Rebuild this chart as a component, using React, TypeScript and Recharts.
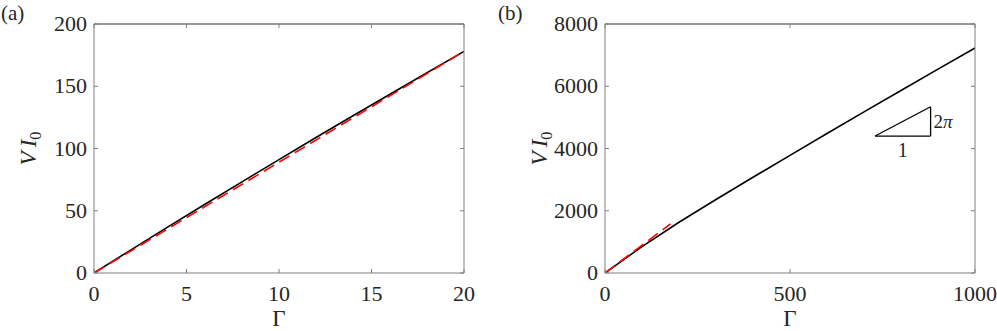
import React from "react";
import { LineChart, Line, XAxis, YAxis, ReferenceLine, ReferenceDot } from "recharts";

// panel (a): small Gamma range
const gammaA = [0, 2, 4, 6, 8, 10, 12, 14, 16, 18, 20];
const blackA = [0, 18.6, 37, 55.2, 73.2, 91.1, 108.8, 126.3, 143.6, 160.8, 178];
const redGammaA = [0, 10, 20];
const redA = [0, 89, 178];
const xTicksA = [0, 5, 10, 15, 20];
const yTicksA = [0, 50, 100, 150, 200];

// panel (b): large Gamma range
const gammaB = [0, 100, 200, 300, 400, 500, 600, 700, 800, 900, 1000];
const blackB = [0, 850, 1630, 2360, 3075, 3780, 4480, 5175, 5865, 6550, 7230];
const redGammaB = [0, 88, 177];
const redB = [0, 785, 1575];
const xTicksB = [0, 500, 1000];
const yTicksB = [0, 2000, 4000, 6000, 8000];

// slope triangle (data units of panel b)
const triX = [730, 880];
const triY = [4400, 5342];

const FONT = "'Liberation Serif', 'Times New Roman', serif";
const AXIS = "#808080";
const TOP = "#303030";
const TXT = "#262626";

const toRows = (xs: number[], ys: number[]) => xs.map((g, i) => ({ g, v: ys[i] }));

function BottomTick({ x, y, payload }: any) {
  return (
    <g>
      <line x1={x} x2={x} y1={y} y2={y - 4} stroke={AXIS} />
      <text x={x} y={y + 28} textAnchor="middle" fontSize={22} fontFamily={FONT} fill={TXT}>
        {payload.value}
      </text>
    </g>
  );
}

function LeftTick({ x, y, payload }: any) {
  return (
    <g>
      <line x1={x} x2={x + 4} y1={y} y2={y} stroke={AXIS} />
      <text x={x - 7} y={y + 7} textAnchor="end" fontSize={22} fontFamily={FONT} fill={TXT}>
        {payload.value}
      </text>
    </g>
  );
}

function TopTick({ x, y }: any) {
  return <line x1={x} x2={x} y1={y} y2={y + 4} stroke={AXIS} />;
}

function RightTick({ x, y }: any) {
  return <line x1={x} x2={x - 4} y1={y} y2={y} stroke={AXIS} />;
}

function GammaLabel({ viewBox }: any) {
  const { x, y, width } = viewBox;
  return (
    <text x={x + width / 2} y={y + 53} textAnchor="middle" fontSize={23} fontFamily={FONT} fill={TXT}>
      Γ
    </text>
  );
}

function VLabel({ viewBox }: any) {
  const { y, height } = viewBox;
  const cx = 36;
  const cy = y + height / 2;
  return (
    <text
      x={cx}
      y={cy}
      transform={`rotate(-90 ${cx} ${cy})`}
      textAnchor="middle"
      fontSize={23}
      fontFamily={FONT}
      fill={TXT}
    >
      <tspan fontStyle="italic">V</tspan>
      <tspan fontStyle="italic" dx={4}>I</tspan>
      <tspan fontSize={16} dy={5}>0</tspan>
    </text>
  );
}

function Panel({
  width,
  marginRight,
  xMax,
  yMax,
  xTicks,
  yTicks,
  black,
  red,
  children,
}: any) {
  return (
    <LineChart width={width} height={331} margin={{ top: 23, right: marginRight, bottom: 57, left: 0 }}>
      <XAxis
        dataKey="g"
        type="number"
        domain={[0, xMax]}
        ticks={xTicks}
        height={1}
        tickSize={0}
        tickMargin={0}
        tickLine={false}
        axisLine={{ stroke: AXIS }}
        tick={<BottomTick />}
        label={<GammaLabel />}
        allowDataOverflow
      />
      <XAxis
        xAxisId="top"
        orientation="top"
        dataKey="g"
        type="number"
        domain={[0, xMax]}
        ticks={xTicks}
        height={1}
        tickSize={0}
        tickMargin={0}
        tickLine={false}
        axisLine={{ stroke: TOP }}
        tick={<TopTick />}
        allowDataOverflow
      />
      <YAxis
        type="number"
        domain={[0, yMax]}
        ticks={yTicks}
        width={94}
        tickSize={0}
        tickMargin={0}
        tickLine={false}
        axisLine={{ stroke: AXIS }}
        tick={<LeftTick />}
        label={<VLabel />}
        allowDataOverflow
      />
      <YAxis
        yAxisId="right"
        orientation="right"
        type="number"
        domain={[0, yMax]}
        ticks={yTicks}
        width={1}
        tickSize={0}
        tickMargin={0}
        tickLine={false}
        axisLine={{ stroke: AXIS }}
        tick={<RightTick />}
        allowDataOverflow
      />
      <Line
        data={black}
        dataKey="v"
        type="linear"
        stroke="#000"
        strokeWidth={1.6}
        dot={false}
        isAnimationActive={false}
      />
      <Line
        data={red}
        dataKey="v"
        type="linear"
        stroke="#ff0000"
        strokeWidth={1.6}
        strokeDasharray="12 6"
        dot={false}
        isAnimationActive={false}
      />
      {children}
    </LineChart>
  );
}

export default function App() {
  return (
    <div style={{ position: "absolute", left: 0, top: 0, width: 997, height: 331, background: "#fff" }}>
      <div style={{ position: "absolute", left: 0, top: 0 }}>
        <Panel
          width={500}
          marginRight={35}
          xMax={20}
          yMax={200}
          xTicks={xTicksA}
          yTicks={yTicksA}
          black={toRows(gammaA, blackA)}
          red={toRows(redGammaA, redA)}
        />
      </div>
      <div style={{ position: "absolute", left: 511, top: 0 }}>
        <Panel
          width={486}
          marginRight={21}
          xMax={1000}
          yMax={8000}
          xTicks={xTicksB}
          yTicks={yTicksB}
          black={toRows(gammaB, blackB)}
          red={toRows(redGammaB, redB)}
        >
          <ReferenceLine
            segment={[{ x: triX[0], y: triY[0] }, { x: triX[1], y: triY[0] }]}
            stroke="#000"
            strokeWidth={1.3}
            ifOverflow="visible"
          />
          <ReferenceLine
            segment={[{ x: triX[1], y: triY[0] }, { x: triX[1], y: triY[1] }]}
            stroke="#000"
            strokeWidth={1.3}
            ifOverflow="visible"
          />
          <ReferenceLine
            segment={[{ x: triX[0], y: triY[0] }, { x: triX[1], y: triY[1] }]}
            stroke="#000"
            strokeWidth={1.3}
            ifOverflow="visible"
          />
          <ReferenceDot
            x={(triX[0] + triX[1]) / 2}
            y={triY[0]}
            r={0}
            fill="none"
            stroke="none"
            label={({ viewBox }: any) => (
              <text x={viewBox.x + viewBox.width / 2} y={viewBox.y + 21} textAnchor="middle" fontSize={20} fontFamily={FONT} fill={TXT}>
                1
              </text>
            )}
          />
          <ReferenceDot
            x={triX[1]}
            y={(triY[0] + triY[1]) / 2}
            r={0}
            fill="none"
            stroke="none"
            label={({ viewBox }: any) => (
              <text x={viewBox.x + 3} y={viewBox.y + 7} textAnchor="start" fontSize={19} fontFamily={FONT} fill={TXT}>
                2<tspan fontStyle="italic">π</tspan>
              </text>
            )}
          />
        </Panel>
      </div>
      <svg width={997} height={331} style={{ position: "absolute", left: 0, top: 0, pointerEvents: "none" }}>
        <text x={1} y={20} fontSize={21} fontFamily={FONT} fill={TXT}>(a)</text>
        <text x={498} y={20} fontSize={21} fontFamily={FONT} fill={TXT}>(b)</text>
      </svg>
    </div>
  );
}
